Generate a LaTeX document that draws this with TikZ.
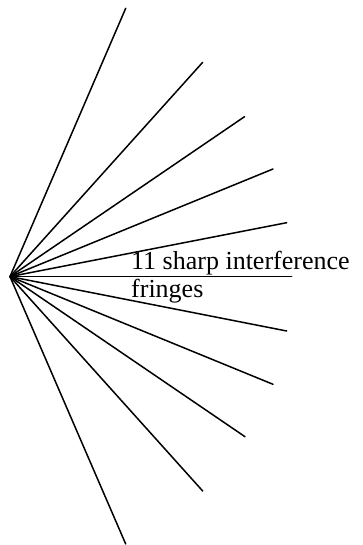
\documentclass[tikz,border=0pt]{standalone}
\usepackage{fontspec}
\setmainfont{Liberation Serif}
\begin{document}
\begin{tikzpicture}[x=1pt,y=-1pt,
  ray/.style={draw=black,line width=1.5pt,line cap=round},
  lbl/.style={inner sep=0pt,anchor=base west,align=left,font=\fontsize{26}{28.7}\selectfont}]
\useasboundingbox (0,0) rectangle (363,545);
\coordinate (c) at (10,276.6);
\coordinate (e1) at (125.7,8.3);
\coordinate (e2) at (202.7,62.3);
\coordinate (e3) at (244.5,116.7);
\coordinate (e4) at (273,169);
\coordinate (e5) at (286.7,222.7);
\coordinate (e6) at (291.7,276.6);
\coordinate (e7) at (286.7,331);
\coordinate (e8) at (273,384.3);
\coordinate (e9) at (245,436.7);
\coordinate (e10) at (202.7,491);
\coordinate (e11) at (125.7,544);
\foreach \i in {1,...,11} {\draw[ray] (c) -- (e\i);}
\node[lbl] (label) at (131,297.7) {11 sharp interference\\fringes};
\end{tikzpicture}
\end{document}
